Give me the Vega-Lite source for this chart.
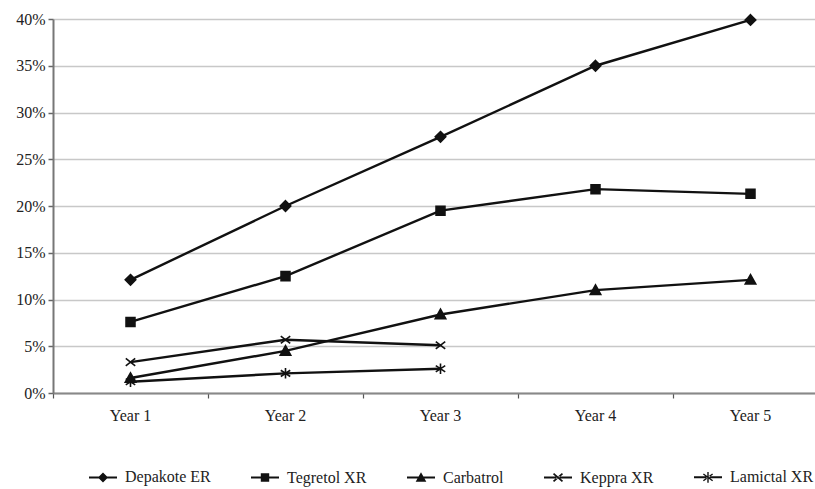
{
  "$schema": "https://vega.github.io/schema/vega-lite/v6.json",
  "autosize": "none",
  "padding": {"left": 53, "top": 19, "right": 0, "bottom": 96},
  "width": 762,
  "height": 374,
  "background": "white",
  "config": {
    "view": {"stroke": null},
    "font": "Liberation Serif",
    "axis": {"labelFont": "Liberation Serif", "labelFontSize": 16, "labelColor": "#222"},
    "legend": {"labelFont": "Liberation Serif", "labelFontSize": 16, "labelColor": "#222"}
  },
  "data": {
    "values": [
      {"drug": "Depakote ER", "year": "Year 1", "share": 0.121},
      {"drug": "Depakote ER", "year": "Year 2", "share": 0.200},
      {"drug": "Depakote ER", "year": "Year 3", "share": 0.274},
      {"drug": "Depakote ER", "year": "Year 4", "share": 0.350},
      {"drug": "Depakote ER", "year": "Year 5", "share": 0.399},
      {"drug": "Tegretol XR", "year": "Year 1", "share": 0.076},
      {"drug": "Tegretol XR", "year": "Year 2", "share": 0.125},
      {"drug": "Tegretol XR", "year": "Year 3", "share": 0.195},
      {"drug": "Tegretol XR", "year": "Year 4", "share": 0.218},
      {"drug": "Tegretol XR", "year": "Year 5", "share": 0.213},
      {"drug": "Carbatrol", "year": "Year 1", "share": 0.016},
      {"drug": "Carbatrol", "year": "Year 2", "share": 0.045},
      {"drug": "Carbatrol", "year": "Year 3", "share": 0.084},
      {"drug": "Carbatrol", "year": "Year 4", "share": 0.110},
      {"drug": "Carbatrol", "year": "Year 5", "share": 0.121},
      {"drug": "Keppra XR", "year": "Year 1", "share": 0.033},
      {"drug": "Keppra XR", "year": "Year 2", "share": 0.057},
      {"drug": "Keppra XR", "year": "Year 3", "share": 0.051},
      {"drug": "Lamictal XR", "year": "Year 1", "share": 0.012},
      {"drug": "Lamictal XR", "year": "Year 2", "share": 0.021},
      {"drug": "Lamictal XR", "year": "Year 3", "share": 0.026}
    ]
  },
  "encoding": {
    "x": {
      "field": "year", "type": "ordinal",
      "scale": {"type": "band", "paddingInner": 0, "paddingOuter": 0, "range": [0, 775]},
      "axis": {
        "title": null, "labelAngle": 0, "grid": false,
        "domain": true, "domainColor": "#888", "domainWidth": 2,
        "ticks": true, "tickColor": "#555", "tickSize": 5, "tickWidth": 1.2,
        "bandPosition": 0, "labelPadding": 9
      }
    },
    "y": {
      "field": "share", "type": "quantitative",
      "scale": {"domain": [0, 0.4], "nice": false},
      "axis": {
        "title": null, "format": ".0%",
        "values": [0, 0.05, 0.1, 0.15, 0.2, 0.25, 0.3, 0.35, 0.4],
        "grid": true, "gridColor": "#c8c8c8", "gridWidth": 1.5,
        "domain": true, "domainColor": "#777", "domainWidth": 2,
        "ticks": true, "tickColor": "#666", "tickSize": 5, "tickWidth": 1.5,
        "labelPadding": 3
      }
    }
  },
  "layer": [
    {
      "mark": {"type": "line", "color": "#111", "strokeWidth": 2.4},
      "encoding": {"detail": {"field": "drug"}}
    },
    {
      "mark": {"type": "point", "filled": true, "color": "#111", "stroke": "#111", "strokeWidth": 1.6, "opacity": 1},
      "encoding": {
        "shape": {
          "field": "drug", "type": "nominal",
          "scale": {
            "domain": ["Depakote ER", "Tegretol XR", "Carbatrol", "Keppra XR", "Lamictal XR"],
            "range": [
              "M0,-1L1,0L0,1L-1,0Z",
              "M-0.85,-0.85H0.85V0.85H-0.85Z",
              "M0,-1L1,0.8H-1Z",
              "M-0.9,-0.7L0.9,0.7M-0.9,0.7L0.9,-0.7",
              "M-0.9,-0.6L0.9,0.6M-0.9,0.6L0.9,-0.6M0,-1V1"
            ]
          },
          "legend": null
        },
        "size": {"value": 110}
      }
    },
    {
      "mark": {"type": "point", "filled": true, "color": "#111", "opacity": 0},
      "encoding": {
        "shape": {
          "field": "drug", "type": "nominal",
          "scale": {
            "domain": ["Depakote ER", "Tegretol XR", "Carbatrol", "Keppra XR", "Lamictal XR"],
            "range": [
              "M-1,-0.07H1V0.07H-1ZM0,-0.36L0.36,0L0,0.36L-0.36,0Z",
              "M-1,-0.07H1V0.07H-1ZM-0.3,-0.3H0.3V0.3H-0.3Z",
              "M-1,-0.07H1V0.07H-1ZM0,-0.38L0.38,0.3H-0.38Z",
              "M-1,-0.07H1V0.07H-1ZM-0.36,-0.24L-0.28,-0.32L0.36,0.24L0.28,0.32ZM-0.36,0.24L-0.28,0.32L0.36,-0.24L0.28,-0.32Z",
              "M-1,-0.07H1V0.07H-1ZM-0.36,-0.2L-0.3,-0.28L0.36,0.2L0.3,0.28ZM-0.36,0.2L-0.3,0.28L0.36,-0.2L0.3,-0.28ZM-0.05,-0.38H0.05V0.38H-0.05Z"
            ]
          },
          "legend": {
            "title": null, "orient": "none", "direction": "horizontal",
            "legendX": 35, "legendY": 443,
            "symbolSize": 784, "symbolOpacity": 1,
            "labelOffset": 7, "columnPadding": 37,
            "encode": {
              "symbols": {
                "fill": {"value": "#111"},
                "fillOpacity": {"value": 1},
                "opacity": {"value": 1}
              }
            }
          }
        },
        "size": {"value": 784}
      }
    }
  ],
  "resolve": {"scale": {"shape": "independent"}, "legend": {"shape": "independent"}}
}
